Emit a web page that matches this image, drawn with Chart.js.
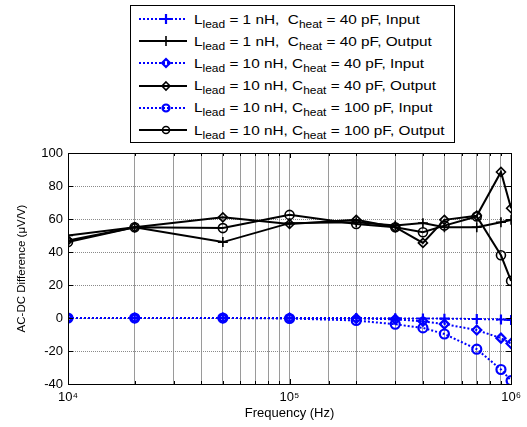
<!DOCTYPE html>
<html>
<head>
<meta charset="utf-8">
<script src="https://cdn.jsdelivr.net/npm/chart.js@4.4.1/dist/chart.umd.min.js"></script>
<style>
  body { margin: 0; background: #fff; }
  #wrap { position: relative; width: 527px; height: 427px; }
  #legend {
    position: absolute; left: 130px; top: 5px; width: 325px; height: 138px;
    border: 1px solid #000; background: #fff; box-sizing: border-box;
    font-family: "Liberation Sans", Arial, sans-serif; font-size: 13px; color: #000;
    padding-top: 2px; overflow: hidden;
  }
  .row { height: 22.2px; display: flex; align-items: center; white-space: pre; }
  .row svg { margin-left: 7px; margin-right: 6px; flex: none; }
  .row span { display: inline-block; transform: scaleX(1.18); transform-origin: left center; }
  sub { font-size: 0.78em; vertical-align: -0.35em; line-height: 0; }
</style>
</head>
<body>
<div id="wrap">
  <canvas id="chart" width="527" height="427"></canvas>
  <div id="legend"></div>
</div>
<script>
// frequency points (Hz)
const freqs = [1e4, 2e4, 5e4, 1e5, 2e5, 3e5, 4e5, 5e5, 7e5, 9e5, 1e6];

// AC-DC difference, uV/V
const in1nH40pF   = [0, 0, 0, 0, 0, -0.2, -0.3, -0.4, -0.6, -0.9, -1.2];
const out1nH40pF  = [50, 55, 46, 57.5, 58, 56, 57.5, 55, 55, 58, 59.5];
const in10nH40pF  = [0, 0, 0, 0, -0.3, -0.8, -2, -3.7, -7.3, -12.2, -15.5];
const out10nH40pF = [47, 55, 61, 57, 59.5, 55, 45.5, 59.5, 62, 88.5, 66.5];
const in10nH100pF  = [0, 0, 0, -0.3, -1.5, -3.8, -6, -9.7, -18.9, -31.2, -38];
const out10nH100pF = [46, 55, 54.5, 62.5, 57, 55, 52, 56, 61.5, 38, 22.5];

const leadL = ['1 nH', '1 nH', '10 nH', '10 nH', '10 nH', '10 nH'];
const heatC = ['40 pF', '40 pF', '40 pF', '40 pF', '100 pF', '100 pF'];
const kinds = ['Input', 'Output', 'Input', 'Output', 'Input', 'Output'];
const yTicks = [100, 80, 60, 40, 20, 0, -20, -40];

const allSeries = [in1nH40pF, out1nH40pF, in10nH40pF, out10nH40pF, in10nH100pF, out10nH100pF];
const markers = ['cross', 'cross', 'rectRot', 'rectRot', 'circle', 'circle'];

const sup = { 4: '\u2074', 5: '\u2075', 6: '\u2076' };

const datasets = allSeries.map((vals, i) => {
  const isInput = kinds[i] === 'Input';
  const col = isInput ? '#0000ff' : '#000000';
  return {
    label: 'L' + leadL[i] + ' ' + heatC[i] + ' ' + kinds[i],
    data: vals.map((v, k) => ({ x: freqs[k], y: v })),
    borderColor: col,
    borderWidth: 2,
    borderDash: isInput ? [2, 2] : [],
    pointStyle: markers[i],
    pointRadius: markers[i] === 'cross' ? 5 : 4.5,
    pointBorderWidth: isInput ? 2.2 : 1.6,
    pointBorderColor: col,
    pointBackgroundColor: 'rgba(0,0,0,0)',
    tension: 0,
    fill: false
  };
});

// box round the plot plus inward tick marks
const frame = {
  id: 'frame',
  afterDraw(chart) {
    const { ctx, chartArea: a, scales } = chart;
    ctx.save();
    ctx.strokeStyle = '#000';
    ctx.lineWidth = 1;
    ctx.beginPath();
    scales.x.ticks.forEach(t => {
      const px = Math.round(scales.x.getPixelForValue(t.value)) + 0.5;
      const e = Math.log10(t.value);
      const len = Math.abs(e - Math.round(e)) < 1e-9 ? 5 : 3;
      ctx.moveTo(px, a.bottom); ctx.lineTo(px, a.bottom - len);
      ctx.moveTo(px, a.top); ctx.lineTo(px, a.top + len);
    });
    scales.y.ticks.forEach(t => {
      const py = Math.round(scales.y.getPixelForValue(t.value)) + 0.5;
      ctx.moveTo(a.left, py); ctx.lineTo(a.left + 5, py);
      ctx.moveTo(a.right, py); ctx.lineTo(a.right - 5, py);
    });
    ctx.stroke();
    ctx.strokeRect(Math.round(a.left) + 0.5, Math.round(a.top) + 0.5,
                   Math.round(a.right - a.left), Math.round(a.bottom - a.top));
    ctx.restore();
  }
};

const font = { family: '"Liberation Sans", Arial, sans-serif', size: 12 };

const chart = new Chart(document.getElementById('chart'), {
  type: 'line',
  data: { datasets },
  options: {
    responsive: false,
    animation: false,
    layout: { padding: { left: 0, top: 153, right: 13, bottom: 0 } },
    plugins: { legend: { display: false }, tooltip: { enabled: false } },
    scales: {
      x: {
        type: 'logarithmic',
        min: 1e4,
        max: 1e6,
        afterFit(s) { s.height = 43; },
        grid: { color: '#9a9a9a', lineWidth: 1, drawTicks: false },
        border: { color: '#000', width: 1 },
        ticks: {
          autoSkip: false, maxRotation: 0, padding: 6, color: '#000',
          font: { ...font, size: 13 },
          callback(v) {
            const e = Math.log10(v);
            return Math.abs(e - Math.round(e)) < 1e-9 ? '10' + sup[Math.round(e)] : '';
          }
        },
        title: { display: true, text: 'Frequency (Hz)', color: '#000', font: { ...font, size: 13 }, padding: { bottom: 6 } }
      },
      y: {
        min: -40,
        max: 100,
        afterFit(s) { s.width = 68; },
        afterBuildTicks(s) { s.ticks = yTicks.map(v => ({ value: v })); },
        grid: { color: '#8a8a8a', lineWidth: 1, drawTicks: false },
        border: { color: '#000', width: 1, dash: [1, 1] },
        ticks: { padding: 5, color: '#000', font: { ...font, size: 13 } },
        title: { display: true, text: 'AC-DC Difference (\u03bcV/V)', color: '#000', font: { ...font, size: 11.5 }, padding: { top: 15 } }
      }
    }
  },
  plugins: [frame]
});

// legend with subscripts, built from the datasets
const legend = document.getElementById('legend');
datasets.forEach((d, i) => {
  const row = document.createElement('div');
  row.className = 'row';
  const col = d.borderColor;
  const dash = d.borderDash.length ? 'stroke-dasharray="2 2"' : '';
  let mk = '';
  if (d.pointStyle === 'cross') {
    mk = `<path d="M28 6 V16 M23 11 H33" stroke="${col}" stroke-width="${d.pointBorderWidth}"/>`;
  } else if (d.pointStyle === 'rectRot') {
    mk = `<path d="M28 7 L32 11 L28 15 L24 11 Z" fill="none" stroke="${col}" stroke-width="${d.pointBorderWidth}"/>`;
  } else {
    mk = `<circle cx="28" cy="11" r="3.5" fill="none" stroke="${col}" stroke-width="${d.pointBorderWidth}"/>`;
  }
  const sp = leadL[i] === '1 nH' ? ',  ' : ', ';
  row.innerHTML =
    `<svg width="50" height="22"><line x1="1" y1="11" x2="49" y2="11" stroke="${col}" stroke-width="${d.borderWidth}" ${dash}/>${mk}</svg>` +
    `<span>L<sub>lead</sub> = ${leadL[i]}${sp}C<sub>heat</sub> = ${heatC[i]}, ${kinds[i]}</span>`;
  legend.appendChild(row);
});
</script>
</body>
</html>
